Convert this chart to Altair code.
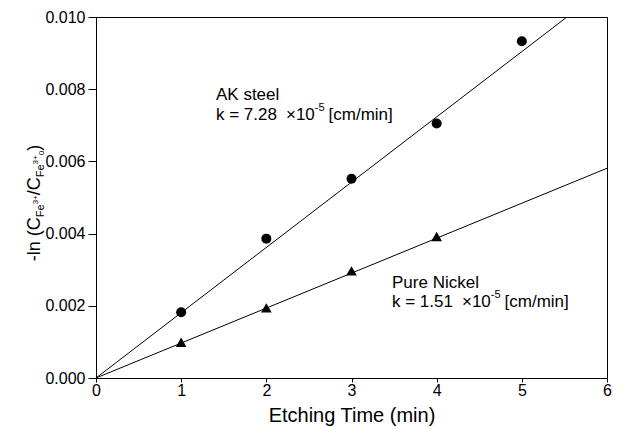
import altair as alt
import pandas as pd

FONT = "Liberation Sans"

# ---- data ----
ak_time = [1, 2, 3, 4, 5]
ak_value = [0.00182, 0.00386, 0.00552, 0.00705, 0.00933]
ni_time = [1, 2, 3, 4]
ni_value = [0.00099, 0.00194, 0.00297, 0.00392]
ak_fit_x = [0, 5.53]
ak_fit_y = [0.0, 0.0100]
ni_fit_x = [0, 6]
ni_fit_y = [0.0, 0.00581]
x_ticks = [0, 1, 2, 3, 4, 5, 6]
y_ticks = [0.0, 0.002, 0.004, 0.006, 0.008, 0.010]
x_title = "Etching Time (min)"
ak_name = "AK steel"
ak_k = ["k = 7.28", "\u00d710", "-5", "[cm/min]"]
ni_name = "Pure Nickel"
ni_k = ["k = 1.51", "\u00d710", "-5", "[cm/min]"]
y_title = ["-ln (C", "Fe", "3+", "/C", "Fe", "3+", "0", ")"]

# Arial / Liberation Sans advance widths (per 1000 em) for layout
W = {'-': 333, 'l': 222, 'n': 556, ' ': 278, '(': 333, 'C': 722, '/': 278, ')': 333,
     'F': 611, 'e': 556, '3': 556, '+': 584, '0': 556, 'k': 500, '=': 584, '7': 556,
     '.': 278, '2': 556, '8': 556, '\u00d7': 584, '1': 556, '5': 556, '[': 278, ']': 278,
     'c': 500, 'm': 833, 'i': 222}


def tw(s, size):
    return sum(W.get(ch, 556) for ch in s) * size / 1000.0


xs = alt.Scale(domain=[0, 6], nice=False, zero=False)
ys = alt.Scale(domain=[0, 0.010], nice=False, zero=False)

x_axis = alt.Axis(values=x_ticks, format="d", tickSize=4, labelFontSize=16, labelPadding=0,
                  labelFlush=False, title=x_title, titleFontSize=20, titleFontWeight="normal",
                  titlePadding=7)
y_axis = alt.Axis(values=y_ticks, format=".3f", tickSize=8, labelFontSize=16, labelPadding=3,
                  labelFlush=False, title=None)

ak_df = pd.DataFrame({"t": ak_time, "v": ak_value})
ni_df = pd.DataFrame({"t": ni_time, "v": ni_value})
akf_df = pd.DataFrame({"t": ak_fit_x, "v": ak_fit_y})
nif_df = pd.DataFrame({"t": ni_fit_x, "v": ni_fit_y})

base_enc = dict(x=alt.X("t:Q", scale=xs, axis=x_axis), y=alt.Y("v:Q", scale=ys, axis=y_axis))

ak_line = alt.Chart(akf_df).mark_line(color="black", strokeWidth=1, clip=True).encode(**base_enc)
ni_line = alt.Chart(nif_df).mark_line(color="black", strokeWidth=1, clip=True).encode(**base_enc)
ak_pts = alt.Chart(ak_df).mark_point(shape="circle", filled=True, size=100, color="black",
                                     opacity=1).encode(**base_enc)
ni_pts = alt.Chart(ni_df).mark_point(shape="triangle-up", filled=True, size=115, color="black",
                                     opacity=1).encode(**base_enc)

layers = [ak_line, ni_line, ak_pts, ni_pts]

one = pd.DataFrame({"d": [0]})


def txt(s, x, y, size, angle=0, baseline="middle"):
    return alt.Chart(one).mark_text(text=s, font=FONT, fontSize=size, color="black", align="left",
                                    baseline=baseline, angle=angle).encode(
        x=alt.value(x), y=alt.value(y))


# plot origin in page pixels
OX, OY = 96, 17


def k_label(lines_x, y1, y2, name, parts):
    out = [txt(name, lines_x - OX, y1 - OY, 17)]
    x = lines_x - OX
    out.append(txt(parts[0], x, y2 - OY, 17))
    x += tw(parts[0], 17) + 9
    out.append(txt(parts[1], x, y2 - OY, 17))
    x += tw(parts[1], 17)
    out.append(txt(parts[2], x, y2 - OY - 7, 11))
    x += tw(parts[2], 11) + 4
    out.append(txt(parts[3], x, y2 - OY, 17))
    return out


layers += k_label(216, 95, 115, ak_name, ak_k)
layers += k_label(392, 283, 302, ni_name, ni_k)

# rotated y-axis title built from pieces (reads bottom to top)
sizes = [18, 11, 8, 18, 11, 8, 8, 18]
shifts = [0, 6, 1, 0, 6, 1, 7, 0]
total = sum(tw(p, s) for p, s in zip(y_title, sizes))
yc = 203
ypos = yc + total / 2
xc = 35
for p, s, sh in zip(y_title, sizes, shifts):
    layers.append(txt(p, xc + sh - OX, ypos - OY, s, angle=270))
    ypos -= tw(p, s)

chart = alt.layer(*layers).properties(
    width=511, height=361,
    autosize=alt.AutoSizeParams(type="none"),
    padding={"left": OX, "top": OY, "right": 20, "bottom": 51},
    background="white",
).configure_view(stroke="black", strokeWidth=1).configure_axis(
    domainColor="black", tickColor="black", labelColor="black", titleColor="black",
    labelFont=FONT, titleFont=FONT, grid=False, domainWidth=1, tickWidth=1)

chart.save("out.html", embed_options={"renderer": "svg", "actions": False})
